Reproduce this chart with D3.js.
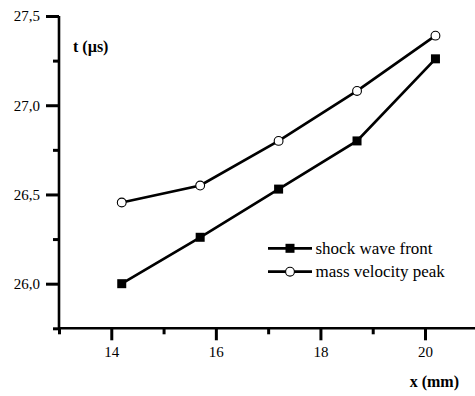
<!DOCTYPE html>
<html>
<head>
<meta charset="utf-8">
<script src="https://cdn.jsdelivr.net/npm/d3@7"></script>
<style>
  html, body { margin: 0; padding: 0; background: #fff; }
  svg { display: block; }
  text { font-family: serif; }
</style>
</head>
<body>
<svg id="chart" width="475" height="396" font-family="serif"></svg>
<script>
// Distance along the sample (mm)
const positions = [14.2, 15.7, 17.2, 18.7, 20.2];
// Arrival times (µs)
const shockFront = [26.0, 26.26, 26.53, 26.8, 27.26];
const massPeak = [26.455, 26.55, 26.8, 27.08, 27.39];

const seriesNames = ["shock wave front", "mass velocity peak"];
const xMajorTicks = [14, 16, 18, 20];
const xMinorTicks = [13, 15, 17, 19];
const yMajorTicks = [26.0, 26.5, 27.0, 27.5];
const yMinorTicks = [25.75, 26.25, 26.75, 27.25];

const serif = "serif";
const svg = d3.select("#chart");

const x = d3.scaleLinear().domain([13, 20]).range([59, 425]);
const y = d3.scaleLinear().domain([25.75, 27.5]).range([328.3, 16]);

const commaFmt = v => d3.format(".1f")(v).replace(".", ",");

const axisStroke = 2.6;

// horizontal axis line runs to the right edge
svg.append("line")
  .attr("x1", x(13)).attr("x2", 475)
  .attr("y1", y(25.75)).attr("y2", y(25.75))
  .attr("stroke", "#000").attr("stroke-width", axisStroke);

// vertical axis line
svg.append("line")
  .attr("x1", x(13)).attr("x2", x(13))
  .attr("y1", y(27.5)).attr("y2", y(25.75))
  .attr("stroke", "#000").attr("stroke-width", axisStroke);

function styleAxis(g) {
  g.attr("font-family", serif).attr("font-size", 15);
  g.select(".domain").remove();
  g.selectAll(".tick line").attr("stroke", "#000").attr("stroke-width", 3);
  g.selectAll(".tick text").attr("fill", "#000").attr("font-family", serif);
}

// x axis major & minor ticks
svg.append("g")
  .attr("transform", `translate(0,${y(25.75)})`)
  .call(d3.axisBottom(x).tickValues(xMajorTicks).tickSize(12).tickPadding(6).tickFormat(d3.format("d")))
  .call(styleAxis);
svg.append("g")
  .attr("transform", `translate(0,${y(25.75)})`)
  .call(d3.axisBottom(x).tickValues(xMinorTicks).tickSize(6).tickFormat(""))
  .call(styleAxis);

// y axis major & minor ticks
svg.append("g")
  .attr("transform", `translate(${x(13)},0)`)
  .call(d3.axisLeft(y).tickValues(yMajorTicks).tickSize(13).tickPadding(6).tickFormat(commaFmt))
  .call(styleAxis);
svg.append("g")
  .attr("transform", `translate(${x(13)},0)`)
  .call(d3.axisLeft(y).tickValues(yMinorTicks).tickSize(6).tickFormat(""))
  .call(styleAxis);

// axis titles
svg.append("text")
  .attr("x", 73).attr("y", 52)
  .attr("font-family", serif).attr("font-size", 16).attr("font-weight", "bold")
  .text("t (µs)");
svg.append("text")
  .attr("x", 459).attr("y", 387)
  .attr("text-anchor", "end")
  .attr("font-family", serif).attr("font-size", 16).attr("font-weight", "bold")
  .text("x (mm)");

const line = d3.line().x(d => x(d[0])).y(d => y(d[1]));
const lineWidth = 2.7;

const shockPts = positions.map((p, i) => [p, shockFront[i]]);
const massPts = positions.map((p, i) => [p, massPeak[i]]);

svg.append("path").datum(shockPts).attr("d", line)
  .attr("fill", "none").attr("stroke", "#000").attr("stroke-width", lineWidth);
svg.append("path").datum(massPts).attr("d", line)
  .attr("fill", "none").attr("stroke", "#000").attr("stroke-width", lineWidth);

const sq = 9;
svg.append("g").selectAll("rect").data(shockPts).join("rect")
  .attr("x", d => x(d[0]) - sq / 2).attr("y", d => y(d[1]) - sq / 2)
  .attr("width", sq).attr("height", sq).attr("fill", "#000");

svg.append("g").selectAll("circle").data(massPts).join("circle")
  .attr("cx", d => x(d[0])).attr("cy", d => y(d[1])).attr("r", 4.4)
  .attr("fill", "#fff").attr("stroke", "#000").attr("stroke-width", 1.1);

// legend
const legend = svg.append("g");
const legendRows = [248.3, 271.7];
seriesNames.forEach((name, i) => {
  const ly = legendRows[i];
  legend.append("line")
    .attr("x1", 268).attr("x2", 312).attr("y1", ly).attr("y2", ly)
    .attr("stroke", "#000").attr("stroke-width", lineWidth);
  if (i === 0) {
    legend.append("rect").attr("x", 290 - 4.5).attr("y", ly - 4.5)
      .attr("width", 9).attr("height", 9).attr("fill", "#000");
  } else {
    legend.append("circle").attr("cx", 290).attr("cy", ly).attr("r", 4.4)
      .attr("fill", "#fff").attr("stroke", "#000").attr("stroke-width", 1.1);
  }
  legend.append("text")
    .attr("x", 315.5).attr("y", ly).attr("dy", "0.33em")
    .attr("font-family", serif).attr("font-size", 17)
    .text(name);
});
</script>
</body>
</html>
